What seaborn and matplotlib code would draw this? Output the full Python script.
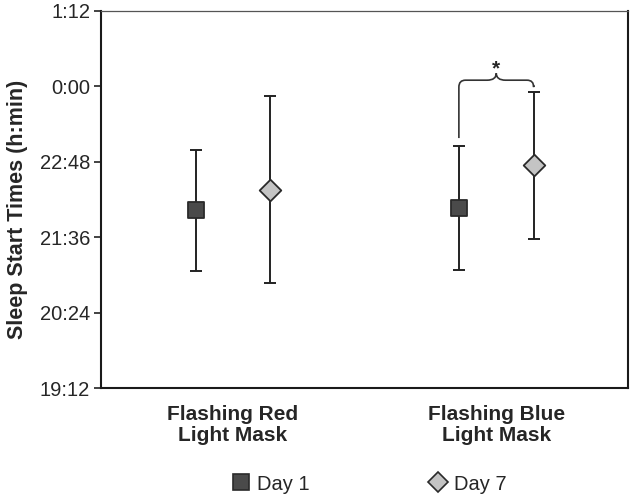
import numpy as np
import pandas as pd
import matplotlib
matplotlib.use("Agg")
import matplotlib.pyplot as plt
import seaborn as sns
from matplotlib.path import Path
from matplotlib.patches import PathPatch
from matplotlib.lines import Line2D

# ---- data (hours of day; values > 24 are after midnight) ----
conditions = ["Flashing Red\nLight Mask", "Flashing Blue\nLight Mask"]
days = ["Day 1", "Day 7"]
mean_day1 = [22.03, 22.07]
mean_day7 = [22.36, 22.75]
sd_day1 = [0.955, 0.98]
sd_day7 = [1.49, 1.17]
y_ticks = [19.2, 20.4, 21.6, 22.8, 24.0, 25.2]

rows = []
for i, c in enumerate(conditions):
    rows.append(dict(cond=c, day="Day 1", mean=mean_day1[i], sd=sd_day1[i]))
    rows.append(dict(cond=c, day="Day 7", mean=mean_day7[i], sd=sd_day7[i]))
df = pd.DataFrame(rows)

sns.set_style("white")
plt.rcParams["font.family"] = ["Liberation Sans", "DejaVu Sans"]

fig = plt.figure(figsize=(6.33, 4.99), dpi=100)
ax = fig.add_axes([0.160, 0.2215, 0.832, 0.7565])

offset = 0.142
styles = {"Day 1": dict(marker="s", color="#4a4a4a", size=11.5),
          "Day 7": dict(marker="D", color="#c4c4c4", size=11.0)}
df["x"] = [conditions.index(c) + 0.5 + (-offset if d == "Day 1" else offset)
           for c, d in zip(df["cond"], df["day"])]

for d in days:
    sub = df[df["day"] == d]
    ax.errorbar(sub["x"], sub["mean"], yerr=sub["sd"], fmt="none",
                ecolor="#222222", elinewidth=1.4, capsize=4.5, capthick=1.4, zorder=2)
    sns.scatterplot(data=sub, x="x", y="mean", marker=styles[d]["marker"],
                    s=styles[d]["size"] ** 2, color=styles[d]["color"],
                    edgecolor="#2a2a2a", linewidth=1.3, ax=ax, zorder=3, legend=False)

ax.set_xlim(0, 2)
ax.set_ylim(y_ticks[0], y_ticks[-1])
ax.set_yticks(y_ticks)

def fmt(h):
    tot = int(round(h * 60)) % (24 * 60)
    return f"{tot // 60}:{tot % 60:02d}"

ax.set_yticklabels([fmt(v) for v in y_ticks], fontsize=14.5)
ax.set_xticks([0.5, 1.5])
ax.set_xticklabels(conditions, fontsize=15, fontweight="bold", linespacing=1.12)
ax.set_xticks([1.0], minor=True)
ax.tick_params(axis="x", which="major", length=0, pad=12)
ax.tick_params(axis="x", which="minor", length=5, width=1.2, direction="out", color="#222222")
ax.tick_params(axis="y", length=5, width=1.2, direction="out", color="#222222", pad=3, left=True)
ax.set_xlabel("")
ax.set_ylabel("Sleep Start Times (h:min)", fontsize=15.5, fontweight="bold")
ax.yaxis.set_label_coords(-0.14, 0.475)

for s in ["left", "bottom", "right"]:
    ax.spines[s].set_color("#1a1a1a")
    ax.spines[s].set_linewidth(1.5)
ax.spines["top"].set_color("#555555")
ax.spines["top"].set_linewidth(0.9)

# ---- significance brace between blue Day 1 and Day 7 ----
xl = 1.5 - offset
xr = 1.5 + offset
xm = 1.5
top_l = mean_day1[1] + sd_day1[1]
top_r = mean_day7[1] + sd_day7[1]
yh = max(top_l, top_r) + 0.18
r = 0.11
dx = 0.025
cusp = 0.11
verts = [(xl, top_l + 0.13), (xl, yh - r), (xl, yh), (xl + dx, yh),
         (xm - 0.035, yh), (xm, yh), (xm, yh + cusp),
         (xm, yh), (xm + 0.035, yh),
         (xr - dx, yh), (xr, yh), (xr, yh - r), (xr, top_r + 0.1)]
codes = [Path.MOVETO, Path.LINETO, Path.CURVE3, Path.CURVE3,
         Path.LINETO, Path.CURVE3, Path.CURVE3,
         Path.CURVE3, Path.CURVE3,
         Path.LINETO, Path.CURVE3, Path.CURVE3, Path.LINETO]
ax.add_patch(PathPatch(Path(verts, codes), fill=False, lw=1.2, edgecolor="#333333"))
ax.text(xm, yh + cusp + 0.07, "*", ha="center", va="center", fontsize=15, fontweight="bold")

# ---- legend ----
handles = [Line2D([], [], ls="none", marker="s", markersize=11, markerfacecolor="#4a4a4a",
                  markeredgecolor="#2a2a2a", markeredgewidth=1.2),
           Line2D([], [], ls="none", marker="D", markersize=10, markerfacecolor="#c4c4c4",
                  markeredgecolor="#2a2a2a", markeredgewidth=1.2)]
fig.legend(handles, days, loc="center", bbox_to_anchor=(0.582, 0.03), ncol=2, frameon=False,
           fontsize=14.5, handletextpad=0.25, columnspacing=5.8, handlelength=1.1)

fig.savefig("out.png", dpi=100)
